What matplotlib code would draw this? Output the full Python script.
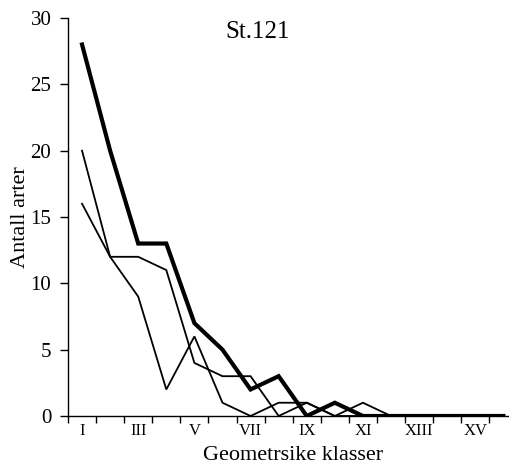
import numpy as np
import matplotlib.pyplot as plt

plt.rcParams['font.family'] = ['Liberation Serif', 'DejaVu Serif']

# geometric size classes I..XVI
klasser = ["I", "II", "III", "IV", "V", "VI", "VII", "VIII",
           "IX", "X", "XI", "XII", "XIII", "XIV", "XV", "XVI"]
serie_tykk = [28, 20, 13, 13, 7, 5, 2, 3, 0, 1, 0, 0, 0, 0, 0, 0]
serie_a = [20, 12, 9, 2, 6, 1, 0, 1, 1, 0, 0, 0, 0, 0, 0, 0]
serie_b = [16, 12, 12, 11, 4, 3, 3, 0, 1, 0, 1, 0, 0, 0, 0, 0]

W, H = 509, 471
fig = plt.figure(figsize=(W / 100, H / 100), dpi=100)
# the original picture is cut on the right, so the axes run past the edge
ax = fig.add_axes([68 / W, (H - 416) / H, (517.4 - 68) / W, (416 - 18) / H])

x = np.arange(len(klasser))
ax.plot(x, serie_a, color='black', lw=1.3, solid_joinstyle='miter')
ax.plot(x, serie_b, color='black', lw=1.3, solid_joinstyle='miter')
ax.plot(x, serie_tykk, color='black', lw=3.0, solid_joinstyle='miter')

ax.set_xlim(-0.5, len(klasser) - 0.5)
ax.set_ylim(0, 30)

for s in ['top', 'right']:
    ax.spines[s].set_visible(False)
for s in ['left', 'bottom']:
    ax.spines[s].set_linewidth(1.0)

ax.set_xticks(np.arange(-0.5, len(klasser)))
ax.set_xticklabels([])
ax.set_xticks(x[::2], minor=True)
ax.set_xticklabels(klasser[::2], minor=True, fontsize=12)
ax.tick_params(axis='x', which='major', direction='out', length=5, width=1)
ax.tick_params(axis='x', which='minor', length=0, pad=5)

ax.set_yticks(np.arange(0, 31, 5))
ax.tick_params(axis='y', direction='out', length=6, width=1, labelsize=15, pad=6)

ax.set_xlabel("Geometrsike klasser", fontsize=16)
ax.xaxis.set_label_coords(0.5, -0.098)
ax.xaxis.label.set_va('center')
ax.set_ylabel("Antall arter", fontsize=16)
ax.yaxis.set_label_coords(-0.105, 0.5)
ax.yaxis.label.set_va('center')
ax.text(258 / W, 1 - 32 / H, "St.121", transform=fig.transFigure,
        ha='center', va='center', fontsize=18)

fig.savefig("out.png", dpi=100)
